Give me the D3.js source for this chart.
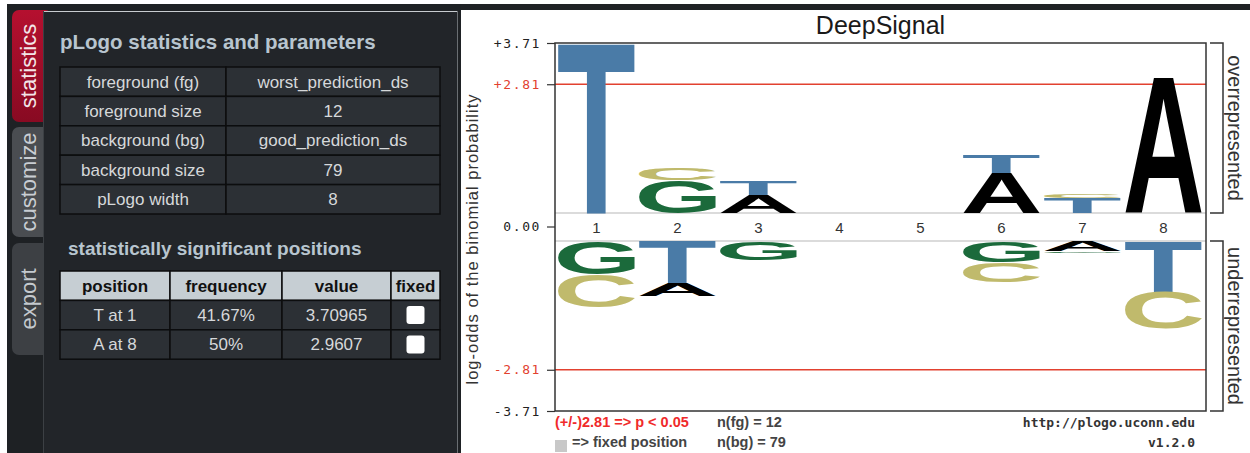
<!DOCTYPE html>
<html>
<head>
<meta charset="utf-8">
<script src="https://cdn.jsdelivr.net/npm/d3@7"></script>
<style>
  html, body { margin: 0; padding: 0; background: #fff; }
  svg { display: block; }
</style>
</head>
<body>
<div id="chart"></div>
<script>
// ---- data ----
var positions = [1, 2, 3, 4, 5, 6, 7, 8];
var residues = ["A", "C", "G", "T"];

// over-represented letter heights (log-odds) per position
var overA = [0, 0, 0.40, 0, 0, 0.87, 0, 2.96];
var overC = [0, 0.25, 0, 0, 0, 0, 0.07, 0];
var overG = [0, 0.72, 0, 0, 0, 0, 0, 0];
var overT = [3.71, 0, 0.30, 0, 0, 0.39, 0.33, 0];

// under-represented letter heights per position
var underA = [0, 0.28, 0, 0, 0, 0, 0.23, 0];
var underC = [0.72, 0, 0, 0, 0, 0.44, 0, 0.80];
var underG = [0.73, 0, 0.41, 0, 0, 0.47, 0.03, 0];
var underT = [0, 0.92, 0, 0, 0, 0, 0, 1.11];

var maxValue = 3.71;
var threshold = 2.81;
var yTicksUp = [3.71, 2.81];
var yTicksDown = [-2.81, -3.71];

var tabNames = ["statistics", "customize", "export"];
var paramLabels = ["foreground (fg)", "foreground size", "background (bg)", "background size", "pLogo width"];
var paramValues = ["worst_prediction_ds", "12", "good_prediction_ds", "79", "8"];
var sigHeaders = ["position", "frequency", "value", "fixed"];
var sigPositions = ["T at 1", "A at 8"];
var sigFrequencies = ["41.67%", "50%"];
var sigValues = ["3.70965", "2.9607"];

var residueColors = { A: "#000000", C: "#c0ba6c", G: "#1b6a3b", T: "#4a7ba7" };

var svgWidth = 1250, svgHeight = 453;
var svg = d3.select("#chart").append("svg")
  .attr("width", svgWidth)
  .attr("height", svgHeight);

// ---- page chrome ----
svg.append("rect").attr("x", 7).attr("y", 4).attr("width", svgWidth - 7).attr("height", 6).attr("fill", "#1f2225");
svg.append("rect").attr("x", 7).attr("y", 4).attr("width", 454).attr("height", svgHeight - 4).attr("fill", "#1e2124");

// tabs
var tabBoxes = [[10, 122], [127, 237], [243, 355]];
var tabFills = ["#a50d2b", "#4a4d51", "#3d4044"];
var tabText = ["#f3e6e9", "#c9ced3", "#c4c9ce"];
var defs = svg.append("defs");
var grad = defs.append("linearGradient").attr("id", "redTab").attr("x1", 0).attr("y1", 0).attr("x2", 0).attr("y2", 1);
grad.append("stop").attr("offset", "0%").attr("stop-color", "#b5102f");
grad.append("stop").attr("offset", "100%").attr("stop-color", "#880a22");

tabNames.forEach(function(name, i) {
  var b = tabBoxes[i];
  svg.append("rect")
    .attr("x", 12).attr("y", b[0])
    .attr("width", 40).attr("height", b[1] - b[0])
    .attr("rx", 7)
    .attr("fill", i === 0 ? "url(#redTab)" : tabFills[i]);
  svg.append("text")
    .attr("transform", "translate(28," + ((b[0] + b[1]) / 2) + ") rotate(-90)")
    .attr("text-anchor", "middle")
    .attr("dy", "0.35em")
    .attr("font-family", "'Liberation Sans', Arial, sans-serif")
    .attr("font-size", "22px")
    .attr("fill", tabText[i])
    .text(name);
});

// content panel
svg.append("rect").attr("x", 43).attr("y", 11).attr("width", 415).attr("height", svgHeight - 11).attr("fill", "#222529");
svg.append("line").attr("x1", 43).attr("x2", 457).attr("y1", 11.5).attr("y2", 11.5).attr("stroke", "#c8ccd0").attr("stroke-width", 1);
svg.append("line").attr("x1", 43.5).attr("x2", 43.5).attr("y1", 11).attr("y2", svgHeight).attr("stroke", "#3c4044").attr("stroke-width", 1);
svg.append("line").attr("x1", 457.5).attr("x2", 457.5).attr("y1", 11).attr("y2", svgHeight).attr("stroke", "#6a6e72").attr("stroke-width", 1);

var sans = "'Liberation Sans', Arial, sans-serif";

svg.append("text")
  .attr("x", 60).attr("y", 49)
  .attr("font-family", sans).attr("font-weight", "bold").attr("font-size", "20.5px")
  .attr("fill", "#b8c5cf")
  .text("pLogo statistics and parameters");

// parameter table
var t1 = { x: 60, split: 226, x2: 440, y: 67, rowH: 29.4 };
var t1g = svg.append("g");
var paramRows = t1g.selectAll("g.row").data(paramLabels).enter().append("g");
paramRows.append("rect")
  .attr("x", t1.x).attr("y", function(d, i) { return t1.y + i * t1.rowH; })
  .attr("width", t1.split - t1.x).attr("height", t1.rowH)
  .attr("fill", "#2c3035").attr("stroke", "#0c0d0e").attr("stroke-width", 1.5);
paramRows.append("rect")
  .attr("x", t1.split).attr("y", function(d, i) { return t1.y + i * t1.rowH; })
  .attr("width", t1.x2 - t1.split).attr("height", t1.rowH)
  .attr("fill", "#2c3035").attr("stroke", "#0c0d0e").attr("stroke-width", 1.5);
paramRows.append("text")
  .attr("x", (t1.x + t1.split) / 2).attr("y", function(d, i) { return t1.y + (i + 0.5) * t1.rowH; })
  .attr("dy", "0.35em").attr("text-anchor", "middle")
  .attr("font-family", sans).attr("font-size", "17px").attr("fill", "#d6d8da")
  .text(function(d) { return d; });
paramRows.append("text")
  .attr("x", (t1.split + t1.x2) / 2).attr("y", function(d, i) { return t1.y + (i + 0.5) * t1.rowH; })
  .attr("dy", "0.35em").attr("text-anchor", "middle")
  .attr("font-family", sans).attr("font-size", "17px").attr("fill", "#d6d8da")
  .text(function(d, i) { return paramValues[i]; });

svg.append("text")
  .attr("x", 68).attr("y", 255)
  .attr("font-family", sans).attr("font-weight", "bold").attr("font-size", "19px")
  .attr("fill", "#b8c5cf")
  .text("statistically significant positions");

// significant positions table
var cols = [60, 170, 282, 391, 440];
var t2y = 271, t2rowH = 29.4;
var t2g = svg.append("g");
sigHeaders.forEach(function(h, c) {
  t2g.append("rect")
    .attr("x", cols[c]).attr("y", t2y).attr("width", cols[c + 1] - cols[c]).attr("height", t2rowH)
    .attr("fill", "#c6ced3").attr("stroke", "#0c0d0e").attr("stroke-width", 1.5);
  t2g.append("text")
    .attr("x", (cols[c] + cols[c + 1]) / 2).attr("y", t2y + t2rowH / 2)
    .attr("dy", "0.35em").attr("text-anchor", "middle")
    .attr("font-family", sans).attr("font-weight", "bold").attr("font-size", "17px").attr("fill", "#111")
    .text(h);
});
sigPositions.forEach(function(p, r) {
  var cells = [p, sigFrequencies[r], sigValues[r], null];
  var yy = t2y + (r + 1) * t2rowH;
  cells.forEach(function(v, c) {
    t2g.append("rect")
      .attr("x", cols[c]).attr("y", yy).attr("width", cols[c + 1] - cols[c]).attr("height", t2rowH)
      .attr("fill", "#2c3035").attr("stroke", "#0c0d0e").attr("stroke-width", 1.5);
    if (v !== null) {
      t2g.append("text")
        .attr("x", (cols[c] + cols[c + 1]) / 2).attr("y", yy + t2rowH / 2)
        .attr("dy", "0.35em").attr("text-anchor", "middle")
        .attr("font-family", sans).attr("font-size", "17px").attr("fill", "#d6d8da")
        .text(v);
    } else {
      t2g.append("rect")
        .attr("x", (cols[c] + cols[c + 1]) / 2 - 9).attr("y", yy + t2rowH / 2 - 9)
        .attr("width", 18).attr("height", 18).attr("rx", 3)
        .attr("fill", "#ffffff");
    }
  });
});

// ---- the pLogo ----
var plot = { left: 555, right: 1206, top: 43, bottom: 411, upBase: 213, downBase: 241 };

var xScale = d3.scaleBand()
  .domain(positions)
  .range([plot.left + 1, plot.right - 2])
  .paddingInner(0.05)
  .paddingOuter(0.025);

var yUp = d3.scaleLinear().domain([0, maxValue]).range([plot.upBase, plot.top]);
var yDown = d3.scaleLinear().domain([0, -maxValue]).range([plot.downBase, plot.bottom]);

var logo = svg.append("g");

logo.append("text")
  .attr("x", (plot.left + plot.right) / 2).attr("y", 34)
  .attr("text-anchor", "middle")
  .attr("font-family", sans).attr("font-size", "25px").attr("fill", "#1a1a1a")
  .text("DeepSignal");

// light baselines
[plot.upBase, plot.downBase].forEach(function(y) {
  logo.append("line")
    .attr("x1", plot.left).attr("x2", plot.right).attr("y1", y).attr("y2", y)
    .attr("stroke", "#cfcfcf").attr("stroke-width", 1.5);
});

// significance lines
[yUp(threshold), yDown(-threshold)].forEach(function(y) {
  logo.append("line")
    .attr("x1", plot.left).attr("x2", plot.right).attr("y1", y).attr("y2", y)
    .attr("stroke", "#e2412f").attr("stroke-width", 1.6);
});

// glyph metrics, so each letter fills its box exactly
var glyphSize = 200;
var glyphFont = "bold " + glyphSize + "px 'Liberation Sans', Arial, sans-serif";
var ctx = document.createElement("canvas").getContext("2d");
ctx.font = glyphFont;
var glyphBox = {};
residues.forEach(function(r) {
  var m = ctx.measureText(r);
  glyphBox[r] = {
    left: m.actualBoundingBoxLeft, right: m.actualBoundingBoxRight,
    asc: m.actualBoundingBoxAscent, desc: m.actualBoundingBoxDescent
  };
});

function stacks(series) {
  var out = [];
  positions.forEach(function(p, i) {
    var items = residues
      .map(function(r) { return { pos: p, res: r, h: series[r][i] }; })
      .filter(function(d) { return d.h > 0; })
      .sort(function(a, b) { return b.h - a.h; });
    var cum = 0;
    items.forEach(function(d) { d.from = cum; cum += d.h; d.to = cum; out.push(d); });
  });
  return out;
}

var overLetters = stacks({ A: overA, C: overC, G: overG, T: overT });
var underLetters = stacks({ A: underA, C: underC, G: underG, T: underT });

function drawLetters(data, yTop, yBot) {
  logo.append("g").selectAll("text")
    .data(data)
    .enter()
    .append("text")
    .attr("transform", function(d) {
      var b = glyphBox[d.res];
      var x = xScale(d.pos), w = xScale.bandwidth();
      var y0 = yTop(d), h = Math.abs(yBot(d) - y0);
      var sx = w / (b.left + b.right), sy = h / (b.asc + b.desc);
      return "translate(" + x + "," + y0 + ") scale(" + sx + "," + sy + ") translate(" + b.left + "," + b.asc + ")";
    })
    .attr("font-family", "'Liberation Sans', Arial, sans-serif")
    .attr("font-weight", "bold")
    .attr("font-size", glyphSize)
    .attr("fill", function(d) { return residueColors[d.res]; })
    .text(function(d) { return d.res; });
}

drawLetters(overLetters, function(d) { return yUp(d.to); }, function(d) { return yUp(d.from); });
drawLetters(underLetters, function(d) { return yDown(-d.from); }, function(d) { return yDown(-d.to); });

// position labels
var labelY = (yUp(0) + yDown(0)) / 2;
logo.append("g").selectAll("text")
  .data(positions)
  .enter()
  .append("text")
  .attr("x", function(d) { return xScale(d) + xScale.bandwidth() / 2; })
  .attr("y", labelY + 6)
  .attr("text-anchor", "middle")
  .attr("font-family", sans).attr("font-size", "15px").attr("fill", "#333")
  .text(function(d) { return d; });

// frame
logo.append("rect")
  .attr("x", plot.left).attr("y", plot.top)
  .attr("width", plot.right - plot.left).attr("height", plot.bottom - plot.top)
  .attr("fill", "none").attr("stroke", "#333").attr("stroke-width", 1.5);

// y axes
var tickFmt = function(d) { return (d > 0 ? "+" : "-") + Math.abs(d).toFixed(2); };
var upAxis = logo.append("g")
  .attr("transform", "translate(" + plot.left + ",0)")
  .call(d3.axisLeft(yUp).tickValues(yTicksUp).tickFormat(tickFmt).tickSize(8).tickPadding(6));
var downAxis = logo.append("g")
  .attr("transform", "translate(" + plot.left + ",0)")
  .call(d3.axisLeft(yDown).tickValues(yTicksDown).tickFormat(tickFmt).tickSize(8).tickPadding(6));

[upAxis, downAxis].forEach(function(ax) {
  ax.select(".domain").remove();
  ax.selectAll("line").attr("stroke", "#333").attr("stroke-width", 1.2);
  ax.selectAll("text")
    .attr("font-family", "'DejaVu Sans Mono', monospace")
    .attr("font-size", "13px")
    .attr("letter-spacing", "1.6px")
    .attr("fill", function(d) { return Math.abs(d) === threshold ? "#e2412f" : "#222"; });
});

var zeroTick = logo.append("g").attr("transform", "translate(" + plot.left + "," + labelY + ")");
zeroTick.append("line").attr("x1", -8).attr("x2", 0).attr("stroke", "#333").attr("stroke-width", 1.2);
zeroTick.append("text")
  .attr("x", -14).attr("dy", "0.32em").attr("text-anchor", "end")
  .attr("font-family", "'DejaVu Sans Mono', monospace")
  .attr("font-size", "13px").attr("letter-spacing", "1.6px").attr("fill", "#222")
  .text((0).toFixed(2));

// y-axis title
logo.append("text")
  .attr("transform", "translate(472," + (labelY + 12) + ") rotate(-90)")
  .attr("text-anchor", "middle")
  .attr("dy", "0.35em")
  .attr("font-family", sans).attr("font-size", "16.5px").attr("letter-spacing", "1px").attr("fill", "#333")
  .text("log-odds of the binomial probability");

// right brackets
var bracketX = 1223;
[[plot.top, plot.upBase, "overrepresented"], [plot.downBase, plot.bottom, "underrepresented"]].forEach(function(b) {
  logo.append("path")
    .attr("d", "M" + (bracketX - 13) + "," + b[0] + "H" + bracketX + "V" + b[1] + "H" + (bracketX - 13))
    .attr("fill", "none").attr("stroke", "#333").attr("stroke-width", 1.5);
  logo.append("text")
    .attr("transform", "translate(1235," + ((b[0] + b[1]) / 2) + ") rotate(90)")
    .attr("text-anchor", "middle")
    .attr("dy", "0.35em")
    .attr("font-family", sans).attr("font-size", "20px").attr("fill", "#333")
    .text(b[2]);
});

// footer
var foot = logo.append("g").attr("font-family", sans).attr("font-weight", "bold").attr("font-size", "14.5px");
foot.append("text").attr("x", plot.left).attr("y", 427).attr("fill", "#f02a2a")
  .text("(+/-)" + threshold.toFixed(2) + " => p < 0.05");
foot.append("rect").attr("x", plot.left).attr("y", 440).attr("width", 12).attr("height", 12).attr("fill", "#c8c8c8");
foot.append("text").attr("x", plot.left + 17).attr("y", 447).attr("fill", "#444").text("=> fixed position");
foot.append("text").attr("x", 717).attr("y", 427).attr("fill", "#444").text("n(fg) = " + paramValues[1]);
foot.append("text").attr("x", 717).attr("y", 447).attr("fill", "#444").text("n(bg) = " + paramValues[3]);

var mono = logo.append("g").attr("font-family", "'DejaVu Sans Mono', monospace").attr("font-weight", "bold")
  .attr("font-size", "13px").attr("fill", "#333").attr("text-anchor", "end");
mono.append("text").attr("x", 1195).attr("y", 427).text("http://plogo.uconn.edu");
mono.append("text").attr("x", 1195).attr("y", 447).text("v1.2.0");
</script>
</body>
</html>
